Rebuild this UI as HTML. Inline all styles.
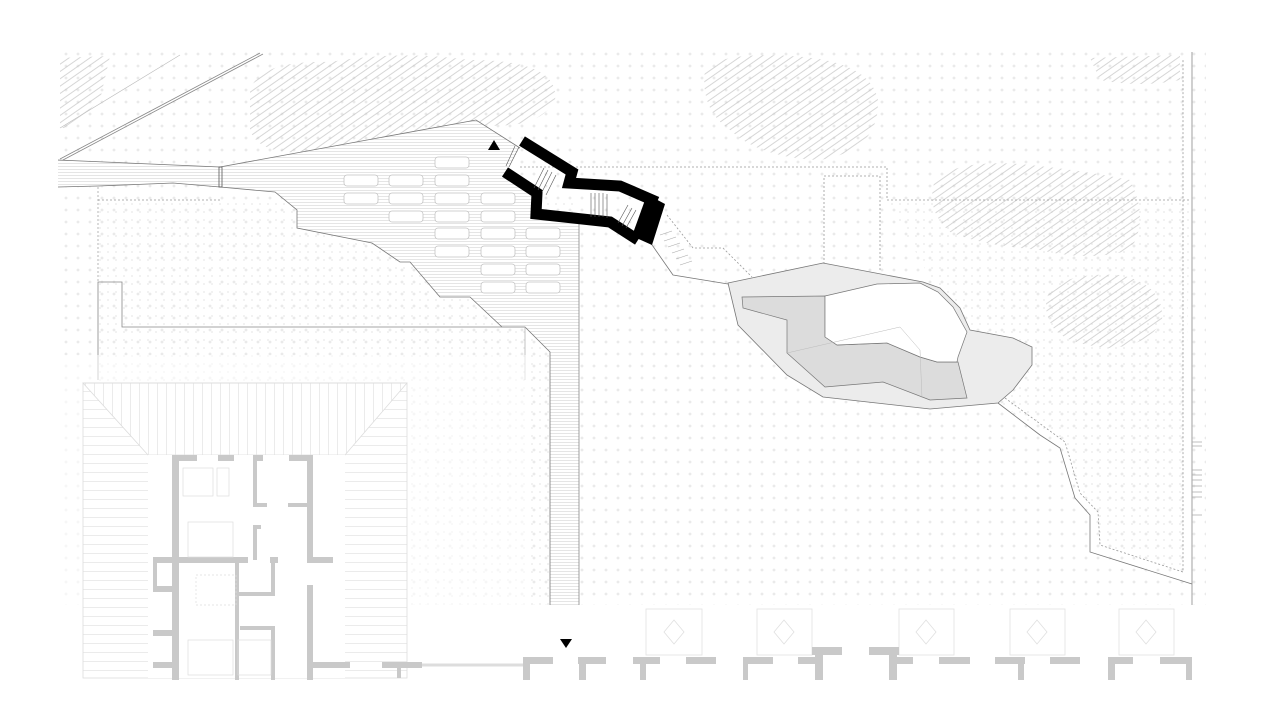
<!DOCTYPE html>
<html><head><meta charset="utf-8"><style>
html,body{margin:0;padding:0;background:#fff;}
svg{display:block;}
</style></head><body>
<svg width="1280" height="720" viewBox="0 0 1280 720" xmlns="http://www.w3.org/2000/svg">
<defs>
<pattern id="plus" width="12" height="12" patternUnits="userSpaceOnUse">
<path d="M4.5 6h3M6 4.5v3" stroke="#dcdcdc" stroke-width="0.7"/>
</pattern>
<pattern id="plusS" width="8" height="8" patternUnits="userSpaceOnUse">
<path d="M3 4h2M4 3v2" stroke="#e4e4e4" stroke-width="0.6"/>
</pattern>
<pattern id="hz" width="4" height="3" patternUnits="userSpaceOnUse">
<path d="M0 1.5h4" stroke="#d4d4d4" stroke-width="0.6"/>
</pattern>
<pattern id="hzL" width="4" height="9" patternUnits="userSpaceOnUse">
<path d="M0 4.5h4" stroke="#e6e6e6" stroke-width="0.8"/>
</pattern>
<pattern id="vtL" width="9" height="4" patternUnits="userSpaceOnUse">
<path d="M4.5 0v4" stroke="#e6e6e6" stroke-width="0.8"/>
</pattern>
<pattern id="tree" width="6" height="6" patternUnits="userSpaceOnUse" patternTransform="rotate(-35)">
<path d="M0 3h6" stroke="#c4c4c4" stroke-width="0.7"/>
</pattern>
</defs>

<rect x="58" y="52" width="1148" height="553" fill="url(#plus)"/>
<rect x="98" y="200" width="480" height="405" fill="url(#plusS)"/>
<polygon points="887,200 1190,200 1183,572 1100,545 1098,512 1080,493 1065,442 1000,405" fill="url(#plusS)"/>

<!-- top-left lines -->
<path d="M60 159L260 53M63 160L263 54" stroke="#888" stroke-width="0.8" fill="none"/>
<path d="M60 128L180 55" stroke="#bbb" stroke-width="0.6"/>

<g fill="url(#tree)">
<path d="M60 58 L110 56 L100 100 L70 128 L60 128Z"/>
<path d="M250 90 Q260 60 330 62 Q400 50 470 60 Q560 60 555 100 Q540 130 480 125 Q400 140 330 150 Q260 160 250 130Z"/>
<path d="M705 70 Q720 52 790 56 Q870 60 878 100 Q880 150 820 160 Q760 158 730 130 Q700 110 705 70Z"/>
<path d="M935 180 Q960 158 1030 165 Q1080 170 1130 180 Q1150 220 1130 250 Q1090 262 1040 250 Q980 245 950 232 Q925 210 935 180Z"/>
<path d="M1050 290 Q1070 272 1120 275 Q1165 285 1162 320 Q1150 345 1110 348 Q1070 345 1055 330 Q1040 310 1050 290Z"/>
<path d="M1090 58 L1180 55 L1180 80 Q1140 88 1100 80Z"/>
</g>

<polygon points="58,160 220,167 476,120 520,148 507,170 538,192 537,213 579,222 579,605 550,605 550,352 525,327 502,327 470,297 440,297 410,262 400,262 372,243 297,228 297,210 275,192 220,187 173,183 98,186 58,187" fill="#fff"/>
<polygon points="58,160 220,167 476,120 520,148 507,170 538,192 537,213 579,222 579,605 550,605 550,352 525,327 502,327 470,297 440,297 410,262 400,262 372,243 297,228 297,210 275,192 220,187 173,183 98,186 58,187" fill="url(#hz)"/>
<polyline points="58,160 220,167 476,120 520,148" fill="none" stroke="#777" stroke-width="0.8"/>
<polyline points="58,187 98,186 173,183 220,187 275,192 297,210 297,228 372,243 400,262 410,262 440,297 470,297 502,327 525,327 550,352 550,605" fill="none" stroke="#777" stroke-width="0.8"/>
<line x1="579" y1="222" x2="579" y2="605" stroke="#888" stroke-width="0.8"/>
<rect x="219" y="167" width="3" height="20" fill="none" stroke="#555" stroke-width="0.8"/>
<polyline points="502,327 122,327 122,282 98,282 98,380" fill="none" stroke="#888" stroke-width="0.8"/>
<path d="M98 187V282M98 200H220" stroke="#999" stroke-width="0.7" stroke-dasharray="2 2" fill="none"/>
<line x1="525" y1="327" x2="525" y2="380" stroke="#aaa" stroke-width="0.7"/>

<g fill="#fff" stroke="#c4c4c4" stroke-width="0.8">
<rect x="435" y="157" width="34" height="11" rx="3"/>
<rect x="344" y="175" width="34" height="11" rx="3"/><rect x="389" y="175" width="34" height="11" rx="3"/><rect x="435" y="175" width="34" height="11" rx="3"/>
<rect x="344" y="193" width="34" height="11" rx="3"/><rect x="389" y="193" width="34" height="11" rx="3"/><rect x="435" y="193" width="34" height="11" rx="3"/><rect x="481" y="193" width="34" height="11" rx="3"/>
<rect x="389" y="211" width="34" height="11" rx="3"/><rect x="435" y="211" width="34" height="11" rx="3"/><rect x="481" y="211" width="34" height="11" rx="3"/>
<rect x="435" y="228" width="34" height="11" rx="3"/><rect x="481" y="228" width="34" height="11" rx="3"/><rect x="526" y="228" width="34" height="11" rx="3"/>
<rect x="435" y="246" width="34" height="11" rx="3"/><rect x="481" y="246" width="34" height="11" rx="3"/><rect x="526" y="246" width="34" height="11" rx="3"/>
<rect x="481" y="264" width="34" height="11" rx="3"/><rect x="526" y="264" width="34" height="11" rx="3"/>
<rect x="481" y="282" width="34" height="11" rx="3"/><rect x="526" y="282" width="34" height="11" rx="3"/>
</g>

<g fill="none" stroke="#999" stroke-width="0.8" stroke-dasharray="2 2">
<polyline points="520,167 887,167 887,200 1190,200"/>
<polyline points="824,280 824,176 880,176 880,270"/>
<polyline points="667,215 693,248 723,248 752,277"/>
<polyline points="1005,398 1065,442 1080,493 1098,512 1100,545 1183,572 1183,60"/>
</g>
<line x1="1192" y1="52" x2="1192" y2="605" stroke="#888" stroke-width="0.8"/>
<g stroke="#aaa" stroke-width="0.8"><path d="M1192 442h10M1192 446h10M1192 470h10M1192 475h10M1192 480h10M1192 486h10M1192 492h10M1192 497h10M1192 515h10"/></g>

<polyline points="650,242 673,275 728,284" fill="none" stroke="#777" stroke-width="0.8"/>
<polyline points="998,403 1040,435 1060,448 1075,498 1090,515 1090,552 1192,584" fill="none" stroke="#777" stroke-width="0.8"/>
<g stroke="#aaa" stroke-width="0.6"><path d="M660 235l12 -4M664 241l12 -4M668 247l12 -4M672 253l12 -4M676 259l12 -4M680 265l12 -4"/></g>

<polygon points="728,283 823,263 923,282 940,288 960,308 970,330 1013,338 1032,347 1032,365 1013,390 998,403 930,409 823,397 787,375 738,325" fill="#ececec" stroke="#777" stroke-width="0.8"/>
<polygon points="742,297 825,296 825,337 837,345 887,343 920,357 937,362 958,362 967,398 930,400 883,382 825,387 787,353 787,320 743,308" fill="#dcdcdc" stroke="#777" stroke-width="0.7"/>
<polygon points="825,296 877,284 920,283 938,292 953,307 967,332 958,357 957,362 937,362 920,357 887,343 837,345 825,337" fill="#fff" stroke="#777" stroke-width="0.7"/>
<polyline points="787,353 900,327 920,350 922,398" fill="none" stroke="#bbb" stroke-width="0.5"/>

<!-- black stair -->
<g fill="none" stroke="#000" stroke-width="11" stroke-linejoin="miter">
<polyline points="522,141 572,172 569,183 620,186 657,202"/>
<polyline points="505,172 537,193 536,214 610,222 638,240"/>
</g>
<polygon points="650,196 665,204 652,245 632,236 645,200" fill="#000"/>
<g stroke="#555" stroke-width="0.6">
<path d="M544 168l-10 20M548 170l-10 20M552 172l-10 20M556 175l-10 20"/>
<path d="M591 193v24M595 193v24M599 193v24M603 193v24M607 194v24"/>
<path d="M628 205l-10 18M632 208l-10 18M636 210l-10 18"/>
<path d="M519 147l-10 20M515 146l-9 20"/>
</g>
<polygon points="488,150 500,150 494,140" fill="#000"/>

<!-- lower left building -->
<rect x="58" y="355" width="470" height="325" fill="#fff" opacity=".55"/>
<rect x="83" y="383" width="324" height="295" fill="#fff"/>
<rect x="83" y="383" width="324" height="295" fill="url(#hzL)"/>
<polygon points="83,383 407,383 345,455 148,455" fill="#fff"/>
<polygon points="83,383 407,383 345,455 148,455" fill="url(#vtL)"/>
<polygon points="83,383 407,383 345,455 148,455" fill="none" stroke="#ddd" stroke-width="0.8"/>
<rect x="83" y="383" width="324" height="295" fill="none" stroke="#ddd" stroke-width="0.8"/>
<rect x="148" y="455" width="197" height="223" fill="#fff"/>
<g fill="#c9c9c9">
<rect x="172" y="455" width="7" height="107"/>
<rect x="172" y="455" width="25" height="6"/><rect x="218" y="455" width="16" height="6"/>
<rect x="253" y="455" width="10" height="6"/><rect x="289" y="455" width="24" height="6"/>
<rect x="307" y="455" width="6" height="107"/>
<rect x="253" y="455" width="4" height="52"/><rect x="253" y="503" width="14" height="4"/><rect x="288" y="503" width="25" height="4"/>
<rect x="253" y="525" width="4" height="35"/><rect x="253" y="525" width="8" height="4"/>
<rect x="153" y="557" width="95" height="6"/><rect x="270" y="557" width="8" height="6"/><rect x="307" y="557" width="26" height="6"/>
<rect x="172" y="557" width="7" height="123"/><rect x="153" y="586" width="20" height="6"/><rect x="153" y="630" width="20" height="6"/><rect x="153" y="662" width="20" height="6"/>
<rect x="153" y="557" width="4" height="35"/>
<rect x="235" y="563" width="4" height="117"/><rect x="235" y="592" width="40" height="4"/><rect x="271" y="563" width="4" height="33"/>
<rect x="240" y="626" width="35" height="4"/><rect x="271" y="626" width="4" height="54"/>
<rect x="307" y="585" width="6" height="95"/><rect x="307" y="662" width="43" height="6"/><rect x="382" y="662" width="40" height="6"/>
<rect x="397" y="662" width="4" height="16"/>
</g>
<g fill="none" stroke="#ddd" stroke-width="0.7">
<rect x="183" y="468" width="30" height="28"/><rect x="217" y="468" width="12" height="28"/>
<rect x="188" y="522" width="45" height="35"/><rect x="188" y="640" width="45" height="35"/>
<rect x="196" y="575" width="40" height="30" stroke-dasharray="2 2"/>
<rect x="238" y="640" width="33" height="35"/>
</g>
<line x1="422" y1="665" x2="528" y2="665" stroke="#ddd" stroke-width="3"/>

<rect x="520" y="605" width="672" height="52" fill="#fff" opacity=".6"/>
<g fill="#fff" stroke="#e2e2e2" stroke-width="0.8">
<rect x="646" y="609" width="56" height="46"/><rect x="757" y="609" width="55" height="46"/>
<rect x="899" y="609" width="55" height="46"/><rect x="1010" y="609" width="55" height="46"/><rect x="1119" y="609" width="55" height="46"/>
</g>
<g fill="none" stroke="#e0e0e0" stroke-width="0.8">
<path d="M674 620l10 12l-10 12l-10 -12z"/><path d="M784 620l10 12l-10 12l-10 -12z"/><path d="M926 620l10 12l-10 12l-10 -12z"/><path d="M1037 620l10 12l-10 12l-10 -12z"/><path d="M1146 620l10 12l-10 12l-10 -12z"/>
</g>
<g fill="#c9c9c9">
<rect x="523" y="657" width="30" height="7"/><rect x="578" y="657" width="28" height="7"/><rect x="633" y="657" width="27" height="7"/>
<rect x="686" y="657" width="30" height="7"/><rect x="743" y="657" width="30" height="7"/><rect x="798" y="657" width="18" height="7"/>
<rect x="812" y="647" width="30" height="8"/><rect x="815" y="647" width="8" height="33"/>
<rect x="869" y="647" width="30" height="8"/><rect x="889" y="647" width="8" height="33"/>
<rect x="897" y="657" width="16" height="7"/><rect x="939" y="657" width="31" height="7"/><rect x="995" y="657" width="30" height="7"/>
<rect x="1050" y="657" width="30" height="7"/><rect x="1108" y="657" width="25" height="7"/><rect x="1160" y="657" width="32" height="7"/>
<rect x="523" y="657" width="7" height="23"/><rect x="579" y="657" width="7" height="23"/><rect x="640" y="657" width="6" height="23"/>
<rect x="743" y="657" width="5" height="23"/><rect x="1018" y="657" width="6" height="23"/><rect x="1108" y="657" width="7" height="23"/><rect x="1186" y="657" width="6" height="23"/>
</g>
<polygon points="560,639 572,639 566,648" fill="#000"/>
</svg>
</body></html>
